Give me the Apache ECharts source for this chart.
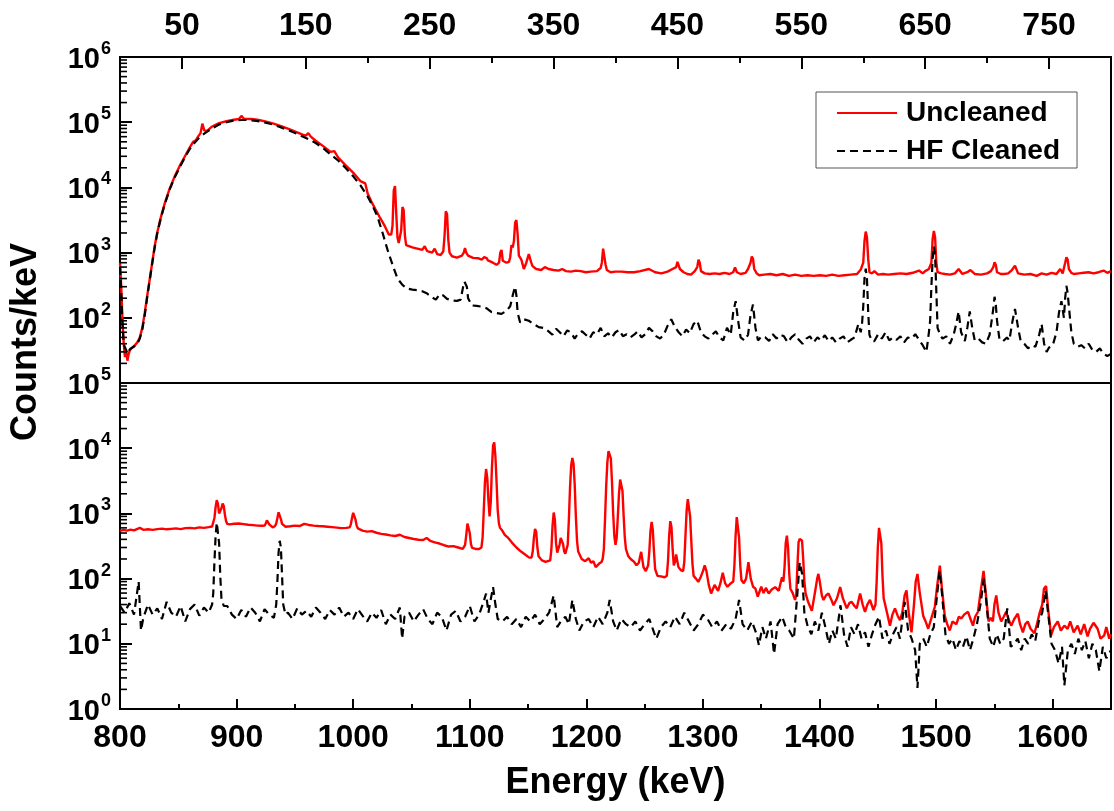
<!DOCTYPE html>
<html><head><meta charset="utf-8">
<script src="https://cdn.jsdelivr.net/npm/echarts@6/dist/echarts.min.js"></script>
<style>html,body{margin:0;padding:0;background:#fff}#c{width:1114px;height:811px}</style>
</head><body><div id="c"></div><script>
// ---------- data ----------
const seriesNames = ['Uncleaned', 'HF Cleaned'];
const topAxisLabelValues = [50, 150, 250, 350, 450, 550, 650, 750];
const xTitle = 'Energy (keV)';
const yTitle = 'Counts/keV';

// upper panel (0-800 keV)
const topUncleaned = [[0,700],[1,300],[2,90],[3,40],[4,25],[5,30],[6,22],[7,28],[8,32],[10,35],[12,38],[14,42],[16,50],[18,70],[20,120],[22,220],[24,390],[26,700],[28,1250],[30,2000],[33,3500],[36,5600],[40,9500],[44,14500],[48,21000],[52,29000],[56,40000],[59,50000],[61,52000],[63,60000],[65,68000],[66.5,95000],[68,75000],[70,73000],[74,85000],[80,97000],[86,104000],[92,109000],[96,112000],[98,125000],[100,113000],[106,112000],[112,108000],[118,102000],[124,95000],[130,87000],[136,79000],[142,71000],[148,64000],[150,62000],[152,68000],[154,60000],[158,52000],[164,43000],[170,35000],[173,36000],[176,29000],[182,22000],[188,17000],[194,12500],[198,11500],[200,8000],[203,6000],[206,4700],[210,3400],[214,2500],[217,1900],[219,1900],[220,2600],[221,9000],[222,10500],[223,4000],[224,1700],[225,1400],[226,1500],[227,2200],[228,5000],[229,4500],[230,1800],[231,1300],[232,1250],[236,1200],[240,1150],[244,1100],[246,1250],[248,1050],[252,1000],[254,1150],[256,950],[259,920],[261,1050],[262,1800],[263,4300],[264,3900],[265,1600],[266,1000],[268,880],[272,840],[276,900],[277.5,1000],[278.5,1170],[279.5,1000],[281,900],[285,830],[289,820],[292,780],[294,850],[295,900],[296,820],[297,760],[301,700],[304,650],[306,700],[307,1000],[308,1100],[309,750],[312,700],[314,720],[315,850],[316,1300],[317,1200],[318,1500],[319,2900],[320,3150],[321,1900],[322,900],[324,780],[326,560],[328,700],[330,950],[331,1000],[332,700],[333,620],[336,560],[340,540],[343,600],[346,560],[350,540],[354,530],[357,560],[360,520],[364,510],[368,530],[372,520],[376,500],[380,510],[385,520],[388,580],[389,700],[390,1150],[391,1220],[392,650],[393,540],[396,500],[400,510],[405,510],[410,500],[415,500],[420,520],[427,560],[432,500],[437,480],[442,510],[446,560],[449,600],[450,720],[451,700],[452,560],[455,500],[458,470],[461,460],[464,520],[466,600],[467,780],[468,700],[469,520],[472,480],[476,470],[480,480],[484,470],[488,490],[492,470],[495,500],[496.5,590],[498,500],[501,470],[505,490],[507,560],[509,700],[510,870],[511,800],[512,560],[514,480],[516,450],[520,460],[525,470],[530,450],[535,470],[540,440],[545,460],[550,440],[555,450],[560,440],[565,450],[570,440],[575,460],[580,440],[585,450],[590,460],[595,470],[598,550],[600,700],[601,1500],[602,2100],[603,1700],[604,800],[605,500],[607,480],[609,520],[612,460],[616,470],[620,460],[625,470],[630,480],[635,470],[640,490],[645,530],[648,480],[650,520],[653,560],[655,700],[656,1600],[657,2150],[658,1700],[659,700],[660,500],[663,480],[666,470],[670,460],[674,480],[677,560],[680,470],[684,500],[686.5,540],[690,470],[695,460],[700,480],[703,520],[705,600],[706,710],[707,650],[708,500],[711,470],[714,470],[717,480],[720,540],[722.5,630],[725,480],[730,460],[735,470],[740,440],[744,480],[748,460],[752,490],[756,470],[759,560],[761,480],[763,700],[764,850],[765,780],[766,560],[768,490],[770,470],[774,480],[778,490],[782,500],[786,480],[790,500],[794,530],[797,490],[800,520]];

const topHfCleaned = [[0,600],[1,250],[2,80],[3,40],[4,35],[5,32],[6,28],[7,30],[8,33],[10,35],[12,37],[14,40],[16,48],[18,66],[20,110],[22,210],[24,380],[26,680],[28,1200],[30,1950],[33,3400],[36,5400],[40,9200],[44,14000],[48,20000],[52,28000],[56,38000],[60,48000],[64,58000],[68,67000],[74,80000],[80,92000],[86,100000],[92,106000],[98,108000],[104,108000],[110,105000],[116,100000],[122,94000],[128,86000],[134,78000],[140,70000],[146,62000],[152,55000],[158,48000],[164,40000],[170,32000],[176,26000],[182,20000],[188,15000],[194,10800],[200,7200],[204,5200],[208,3500],[212,2000],[216,1100],[220,650],[224,400],[228,320],[232,280],[236,270],[240,265],[244,255],[248,235],[252,205],[255,190],[258,230],[261,220],[264,195],[268,185],[272,182],[275,190],[277,300],[278,360],[279,380],[280,300],[281,200],[284,155],[288,152],[292,148],[296,140],[300,122],[304,118],[308,115],[312,128],[315,150],[316,180],[317,220],[318,260],[319,300],[320,220],[321,120],[323,85],[326,95],[330,90],[334,80],[338,72],[342,70],[346,62],[349,55],[352,68],[355,60],[358,52],[361,64],[364,60],[367,48],[370,58],[373,62],[376,55],[379,48],[382,60],[385,56],[388,70],[391,52],[394,58],[397,50],[400,60],[403,65],[406,52],[409,56],[412,50],[415,55],[418,62],[421,50],[424,56],[427,70],[430,62],[433,52],[436,48],[439,55],[442,75],[445,95],[448,72],[451,60],[454,52],[457,66],[460,58],[463,80],[466,90],[469,60],[472,52],[475,48],[478,55],[481,62],[484,50],[487,45],[490,70],[493,55],[495,120],[497,180],[499,90],[501,50],[504,45],[507,55],[509,110],[511,160],[513,70],[515,45],[518,52],[521,50],[524,44],[527,56],[530,48],[533,55],[536,52],[539,42],[542,50],[545,56],[548,46],[551,40],[554,48],[557,52],[560,42],[563,50],[566,45],[569,54],[572,44],[575,50],[578,42],[581,48],[584,52],[587,42],[590,46],[593,50],[596,80],[598,60],[599,80],[600,150],[601,400],[602,570],[603,400],[604,120],[605,55],[607,44],[609,44],[612,56],[615,48],[618,60],[621,45],[624,50],[627,46],[630,52],[633,42],[636,50],[639,48],[642,56],[645,46],[648,38],[651,30],[653,60],[654,90],[655,300],[656,800],[657,1250],[658,900],[659,250],[660,70],[662,55],[664,48],[667,52],[670,40],[673,55],[675,80],[677,125],[679,60],[682,44],[684,70],[686,125],[688,70],[690,45],[693,48],[696,42],[699,40],[702,55],[704,100],[705,140],[706,210],[707,160],[708,90],[710,46],[713,44],[716,50],[718,45],[720,80],[722.5,137],[725,70],[727,45],[730,40],[733,34],[736,38],[739,36],[742,55],[744,80],[746,40],[748,30],[750,35],[753,38],[756,60],[758,120],[760,180],[762,100],[763,200],[764,310],[765,240],[766,150],[768,60],[770,40],[773,36],[776,38],[779,34],[782,40],[785,32],[788,30],[791,34],[794,28],[797,26],[800,28]];

// lower panel (800-1650 keV)
const bottomUncleaned = [[800,540],[803,560],[806,545],[809,565],[812,550],[815,580],[817,600],[820,560],[824,570],[828,560],[832,575],[836,585],[840,570],[844,580],[848,590],[852,575],[856,595],[860,600],[864,590],[868,610],[872,600],[876,615],[879,630],[880,660],[881,850],[882,1250],[883,1600],[884,1400],[885,1000],[886,950],[887,1200],[888,1420],[889,1300],[890,950],[891,760],[892,690],[894,680],[898,695],[902,700],[906,685],[910,670],[914,660],[918,650],[922,645],[924,650],[925,700],[926,780],[927,760],[928,680],[929,640],[931,610],[933,640],[934,700],[935,850],[936,1040],[937,1000],[938,820],[939,690],[940,650],[942,625],[946,635],[950,650],[954,640],[958,690],[962,665],[966,650],[970,640],[974,635],[978,625],[982,615],[986,605],[990,595],[994,600],[997,610],[998,680],[999,850],[1000,1020],[1001,980],[1002,800],[1003,650],[1004,590],[1008,545],[1012,525],[1016,535],[1020,505],[1024,485],[1028,475],[1032,460],[1036,450],[1040,470],[1044,435],[1048,420],[1052,405],[1056,395],[1060,390],[1063,420],[1066,380],[1070,360],[1074,345],[1078,325],[1082,310],[1086,315],[1090,300],[1094,285],[1095,290],[1096,330],[1097,470],[1098,700],[1099,720],[1100,500],[1101,340],[1102,295],[1105,285],[1108,285],[1110,300],[1111,420],[1112,1100],[1113,3000],[1114,4800],[1115,3500],[1116,1600],[1117,900],[1118,1500],[1119,5000],[1120,11000],[1121,12300],[1122,7500],[1123,3000],[1124,1100],[1125,700],[1126,600],[1128,540],[1130,470],[1133,420],[1136,360],[1140,300],[1144,260],[1148,230],[1151,210],[1153,210],[1154,260],[1155,420],[1156,580],[1157,520],[1158,300],[1159,220],[1162,190],[1165,180],[1167,185],[1169,190],[1170,280],[1171,650],[1172,1030],[1173,800],[1174,350],[1175,250],[1176,260],[1177,330],[1178,420],[1179,430],[1180,340],[1181,260],[1182,240],[1183,250],[1184,330],[1185,800],[1186,2500],[1187,5500],[1188,7100],[1189,5800],[1190,2800],[1191,900],[1192,380],[1193,260],[1196,200],[1199,185],[1202,205],[1204,175],[1206,185],[1208,150],[1211,170],[1213,180],[1214,200],[1215,280],[1216,800],[1217,2600],[1218,6000],[1219,9000],[1220,9500],[1221,7000],[1222,3000],[1223,1000],[1224,450],[1225,330],[1226,420],[1227,900],[1228,2000],[1229,3300],[1230,3500],[1231,2200],[1232,900],[1233,420],[1234,280],[1236,220],[1238,200],[1241,180],[1243,160],[1245,175],[1247,257],[1249,150],[1251,130],[1253,160],[1254,260],[1255,540],[1256,740],[1257,560],[1258,260],[1259,140],[1261,110],[1264,108],[1267,105],[1269,110],[1270,180],[1271,450],[1272,760],[1273,620],[1274,280],[1275,160],[1276,180],[1277,235],[1278,220],[1279,150],[1281,135],[1283,130],[1284,180],[1285,450],[1286,1100],[1287,1650],[1288,1600],[1289,900],[1290,380],[1291,170],[1292,110],[1294,100],[1296,89],[1298,105],[1300,130],[1301.5,160],[1303,130],[1305,80],[1307,59],[1310,80],[1313,65],[1315,85],[1317,123],[1319,85],[1321,75],[1324,85],[1326,90],[1327,160],[1328,450],[1329,880],[1330,850],[1331,420],[1332,160],[1333,95],[1335,85],[1337,100],[1339,178],[1341,100],[1343,75],[1345,70],[1347,53],[1350,75],[1352,60],[1354,72],[1356.4,59],[1359,68],[1362,74],[1365,65],[1367.8,105],[1369,90],[1370,150],[1371,350],[1372,457],[1373,300],[1374,120],[1375,70],[1377,60],[1379,47],[1380,55],[1381,150],[1382,360],[1383,405],[1384,400],[1385,380],[1386,200],[1387,90],[1388,60],[1390,45],[1393.4,32],[1396,60],[1398,100],[1399,118],[1400,95],[1402,55],[1403.4,47],[1405.5,55],[1407.7,59],[1410,48],[1412,39],[1415,50],[1417.7,74],[1420,50],[1423.4,35],[1425.5,42],[1427.6,44],[1430,38],[1431.9,35],[1434.8,59],[1437,40],[1439,31],[1441,40],[1443.3,47],[1446.2,33],[1448,40],[1449,90],[1450,300],[1451,600],[1452,620],[1453,350],[1454,110],[1455,50],[1457,35],[1460.4,19],[1462.5,28],[1464.7,35],[1467,27],[1469,23],[1471,30],[1473,55],[1474.6,66],[1476.5,30],[1478.9,15],[1481,40],[1482.5,90],[1484,118],[1486,60],[1488.9,27],[1491,22],[1493.2,17],[1496,25],[1498.9,37],[1501,80],[1503.2,158],[1505,70],[1507.4,27],[1509.5,20],[1511.7,16],[1514,22],[1517.4,20],[1519.5,26],[1521.7,24.5],[1524,28],[1527.4,31],[1529.5,24],[1531.6,19],[1533.5,26],[1535.9,31],[1538,60],[1540.7,131],[1543,50],[1545,22],[1547,25],[1548.7,22],[1550,40],[1551.6,55],[1553.5,30],[1555.8,22],[1558,26],[1560.1,31],[1562,24],[1564.4,19],[1567,24],[1570.1,29],[1572,20],[1574.4,15],[1576.5,20],[1578.6,22],[1581,17],[1584.3,14.5],[1586.5,20],[1588.6,29],[1591,40],[1592.5,70],[1594.3,77],[1596,35],[1598.6,13.5],[1601,18],[1604.3,22],[1607,16],[1610,19],[1612.8,17],[1615,22],[1618,15],[1621.4,19],[1624,14],[1627,20],[1629.9,13],[1632,17],[1635,21],[1638.5,17],[1641,12],[1644.2,13.5],[1646,18],[1648.5,12],[1650,14]];

const bottomHfCleaned = [[800,38],[804,30],[808,42],[812,28],[816,90],[818,16],[820,25],[824,40],[828,28],[832,35],[836,24],[840,44],[844,30],[848,26],[852,38],[856,22],[860,34],[864,40],[868,27],[872,36],[876,30],[879,40],[880,60],[881,180],[882,450],[883,720],[884,700],[885,350],[886,110],[887,50],[889,38],[892,38],[896,28],[900,24],[904,33],[908,26],[912,36],[916,30],[920,22],[924,34],[928,28],[932,25],[934,40],[935,90],[936,250],[937,380],[938,300],[939,110],[940,40],[942,28],[944,30],[948,24],[952,35],[956,28],[960,32],[964,26],[968,36],[972,30],[976,24],[980,33],[984,28],[988,36],[992,26],[996,30],[1000,24],[1004,34],[1008,27],[1012,22],[1016,30],[1020,25],[1024,33],[1028,20],[1032,28],[1036,24],[1040,36],[1042,12],[1044,26],[1048,30],[1052,22],[1056,28],[1060,34],[1064,24],[1068,20],[1072,30],[1076,26],[1080,16],[1084,28],[1088,32],[1092,22],[1096,26],[1100,38],[1104,22],[1108,28],[1112,45],[1114,59],[1116,30],[1118,48],[1120,74],[1122,40],[1124,24],[1128,22],[1132,26],[1136,20],[1140,24],[1144,18],[1148,26],[1152,22],[1156,28],[1160,20],[1164,24],[1168,30],[1172,55],[1175,18],[1178,22],[1182,26],[1185,20],[1188,47],[1191,24],[1194,16],[1198,22],[1202,24],[1206,18],[1210,26],[1214,20],[1218,30],[1220,47],[1223,22],[1226,16],[1230,24],[1234,20],[1238,18],[1242,22],[1246,16],[1250,20],[1254,24],[1258,15],[1260,12],[1264,18],[1268,22],[1272,18],[1276,26],[1280,20],[1284,30],[1288,22],[1292,16],[1296,20],[1300,28],[1304,24],[1308,18],[1312,22],[1316,16],[1320,20],[1324,17],[1328,24],[1331,47],[1334,20],[1338,16],[1342,22],[1346,14],[1348,9.5],[1351,18],[1354,12],[1358,22],[1361,7],[1364,20],[1368,26],[1371,18],[1374,16],[1378,12],[1381,60],[1383,178],[1385,120],[1387,30],[1390,18],[1393,14],[1396,22],[1399,16],[1402,30],[1405,18],[1408,10],[1411,16],[1414,12],[1418,39],[1421,14],[1424,9],[1427,18],[1430,14],[1433,20],[1436,12],[1439,15],[1442,9],[1445,14],[1448,20],[1451,26],[1454,12],[1457,16],[1460,10],[1463,14],[1466,18],[1469,12],[1473,44],[1476,16],[1479,12],[1482,8],[1484,2.1],[1486,10],[1489,12],[1492,9],[1495,14],[1498,18],[1501,60],[1503,131],[1505,60],[1508,14],[1511,10],[1514,12],[1517,8],[1520,11],[1523,9],[1526,13],[1529,8],[1532,12],[1535,20],[1538,40],[1541,100],[1543,45],[1546,12],[1549,9],[1552,14],[1555,10],[1558,12],[1561,35],[1564,9],[1567,10],[1570,12],[1573,8],[1576,12],[1579,10],[1582,14],[1585,11],[1588,22],[1591,30],[1594,66],[1596,30],[1599,10],[1602,8],[1605,5],[1608,9],[1610,2.3],[1613,8],[1616,10],[1619,7],[1622,12],[1625,8],[1628,11],[1631,6],[1634,10],[1637,8],[1640,3.8],[1643,9],[1646,6],[1650,8]];

// ---------- styling / layout ----------
const FONT = '"Liberation Sans", Arial, sans-serif';
const RED = '#ff0000';
const L = 120, R = 3, T = 57, H = 326;

function logMinorTicks(lo, hi, xAt) {
  const out = [];
  for (let d = lo; d < hi; d++) for (let k = 2; k <= 9; k++) out.push([xAt, k * Math.pow(10, d)]);
  return out;
}
function powLabel(v) {
  const e = Math.round(Math.log10(v));
  return '{b|10}{s|' + e + '}';
}
const richY = {
  b: { fontFamily: FONT, fontWeight: 'bold', fontSize: 29, color: '#000', lineHeight: 34, verticalAlign: 'bottom' },
  s: { fontFamily: FONT, fontWeight: 'bold', fontSize: 18, color: '#000', lineHeight: 20, verticalAlign: 'top', padding: [0, 0, 0, 1] }
};
const tickLabelStyle = { fontFamily: FONT, fontWeight: 'bold', fontSize: 32, color: '#000' };
const axisLineStyle = { color: '#000', width: 2 };

function minorTickSeries(name, xi, yi, data) {
  return {
    name: name, type: 'custom', xAxisIndex: xi, yAxisIndex: yi, silent: true, clip: false, z: 5,
    renderItem: function (params, api) {
      const p = api.coord([api.value(0), api.value(1)]);
      return { type: 'line', shape: { x1: p[0], y1: p[1], x2: p[0] + 7, y2: p[1] },
               style: { stroke: '#000', lineWidth: 1.6 } };
    },
    data: data
  };
}

const chart = echarts.init(document.getElementById('c'), null, { renderer: 'canvas' });
chart.setOption({
  animation: false,
  backgroundColor: '#fff',
  grid: [
    { left: L, right: R, top: T, height: H, show: true, borderColor: '#000', borderWidth: 2, backgroundColor: 'transparent' },
    { left: L, right: R, top: T + H, height: H, show: true, borderColor: '#000', borderWidth: 2, backgroundColor: 'transparent' },
    { left: L, right: R, top: T, height: H, show: false }
  ],
  xAxis: [
    { gridIndex: 0, type: 'value', position: 'top', min: 0, max: 800, interval: 100,
      axisLine: { show: true, lineStyle: axisLineStyle },
      axisTick: { show: true, inside: true, length: 6, lineStyle: { width: 2, color: '#000' } },
      minorTick: { show: true, splitNumber: 2, length: 12, lineStyle: { width: 2, color: '#000' } },
      axisLabel: { show: false }, splitLine: { show: false } },
    { gridIndex: 1, type: 'value', position: 'bottom', min: 800, max: 1650, interval: 100,
      axisLine: { show: true, onZero: false, lineStyle: axisLineStyle },
      axisTick: { show: true, inside: true, length: 10, lineStyle: { width: 2, color: '#000' } },
      minorTick: { show: true, splitNumber: 2, length: 5, lineStyle: { width: 2, color: '#000' } },
      axisLabel: Object.assign({ margin: 13, showMaxLabel: false, formatter: function (v) { return String(v); } }, tickLabelStyle),
      splitLine: { show: false },
      name: xTitle, nameLocation: 'middle', nameGap: 56,
      nameTextStyle: { fontFamily: FONT, fontWeight: 'bold', fontSize: 36, color: '#000' } },
    { gridIndex: 2, type: 'value', position: 'top', min: 0, max: 800, interval: 50,
      axisLine: { show: false }, axisTick: { show: false }, splitLine: { show: false },
      axisLabel: Object.assign({ margin: 15, showMinLabel: false, showMaxLabel: false,
        formatter: function (v) { return topAxisLabelValues.indexOf(v) >= 0 ? String(v) : ''; } }, tickLabelStyle) }
  ],
  yAxis: [
    { gridIndex: 0, type: 'log', logBase: 10, min: 10, max: 1e6,
      axisLine: { show: true, onZero: false, lineStyle: axisLineStyle },
      axisTick: { show: true, inside: true, length: 12, lineStyle: { width: 2, color: '#000' } },
      axisLabel: { margin: 9, formatter: function (v) { return v < 50 ? '' : powLabel(v); }, rich: richY },
      splitLine: { show: false } },
    { gridIndex: 1, type: 'log', logBase: 10, min: 1, max: 1e5,
      axisLine: { show: true, onZero: false, lineStyle: axisLineStyle },
      axisTick: { show: true, inside: true, length: 12, lineStyle: { width: 2, color: '#000' } },
      axisLabel: { margin: 9, formatter: powLabel, rich: richY },
      splitLine: { show: false } },
    { gridIndex: 2, type: 'value', show: false, min: 0, max: 1 }
  ],
  legend: {
    data: seriesNames, orient: 'vertical', left: 816, top: 92,
    padding: [6, 17, 2, 20], itemGap: 8, itemWidth: 60, itemHeight: 14,
    borderColor: '#555', borderWidth: 1, backgroundColor: '#fff',
    itemStyle: { opacity: 0 },
    textStyle: { fontFamily: FONT, fontWeight: 'bold', fontSize: 28, color: '#000', lineHeight: 30, padding: [0, 0, 0, 4] }
  },
  graphic: [
    { type: 'text', x: 26, y: 342, rotation: Math.PI / 2, z: 10,
      style: { text: yTitle, fontFamily: FONT, fontWeight: 'bold', fontSize: 36, fill: '#000', align: 'center', verticalAlign: 'middle' } }
  ],
  series: [
    { name: seriesNames[0], type: 'line', xAxisIndex: 0, yAxisIndex: 0, data: topUncleaned, showSymbol: false, symbol: 'none',
      lineStyle: { color: RED, width: 2.4 }, itemStyle: { color: RED }, z: 2 },
    { name: seriesNames[1], type: 'line', xAxisIndex: 0, yAxisIndex: 0, data: topHfCleaned, showSymbol: false, symbol: 'none',
      lineStyle: { color: '#000', width: 2.2, type: [8, 5] }, itemStyle: { color: '#000' }, z: 3 },
    { name: seriesNames[0], type: 'line', xAxisIndex: 1, yAxisIndex: 1, data: bottomUncleaned, showSymbol: false, symbol: 'none',
      lineStyle: { color: RED, width: 2.4 }, itemStyle: { color: RED }, z: 2 },
    { name: seriesNames[1], type: 'line', xAxisIndex: 1, yAxisIndex: 1, data: bottomHfCleaned, showSymbol: false, symbol: 'none',
      lineStyle: { color: '#000', width: 2.2, type: [8, 5] }, itemStyle: { color: '#000' }, z: 3 },
    minorTickSeries('minorTop', 0, 0, logMinorTicks(1, 6, 0)),
    minorTickSeries('minorBottom', 1, 1, logMinorTicks(0, 5, 800))
  ]
});
</script></body></html>
